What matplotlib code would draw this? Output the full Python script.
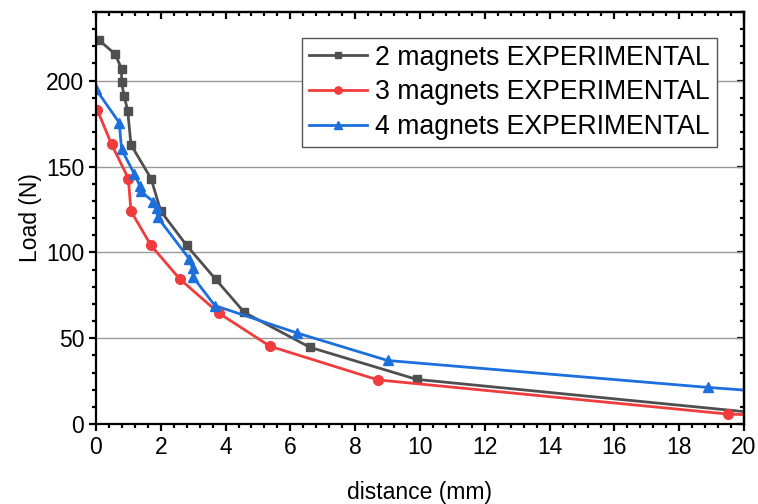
import numpy as np
import matplotlib
matplotlib.use("Agg")
import matplotlib.pyplot as plt
from matplotlib.ticker import MultipleLocator

plt.rcParams['font.family'] = ['Liberation Sans', 'DejaVu Sans']

# 2 magnets
d2 = [0.1, 0.59, 0.79, 0.79, 0.87, 0.98, 1.08, 1.70, 2.0, 2.8, 3.69, 4.58, 6.6, 9.9, 20.5]
load2 = [223.5, 215.5, 207, 199, 191, 182.5, 162.7, 143, 124, 104, 84.4, 65, 44.7, 26, 6.3]

# 3 magnets
d3 = [0.04, 0.48, 1.0, 1.08, 1.7, 2.59, 3.8, 5.37, 8.7, 19.5, 20.5]
load3 = [183, 163, 143, 124, 104, 84.4, 64.5, 45.3, 25.7, 5.8, 5.2]

# 4 magnets
d4 = [0.0, 0.72, 0.79, 1.18, 1.36, 1.38, 1.77, 1.87, 1.9, 2.88, 2.98, 3.0, 3.67, 6.21, 9.0, 18.9, 21.0]
load4 = [195, 175.5, 160, 145.8, 138.4, 135.5, 129.6, 125.8, 120.5, 96.2, 90.8, 85.5, 69, 53, 37, 21.3, 18.4]

labels = ['2 magnets EXPERIMENTAL', '3 magnets EXPERIMENTAL', '4 magnets EXPERIMENTAL']

fig = plt.figure(figsize=(7.58, 5.04), dpi=100)
ax = fig.add_axes([0.1266, 0.1587, 0.8549, 0.8175])

ax.plot(d2, load2, color='#4f4f4f', lw=2.0, marker='s', ms=6, label=labels[0])
ax.plot(d3, load3, color='#f03c3c', lw=2.0, marker='o', ms=7, label=labels[1])
ax.plot(d4, load4, color='#1c6fdc', lw=2.0, marker='^', ms=7.5, label=labels[2])

ax.set_xlim(0, 20)
ax.set_ylim(0, 240)
ax.xaxis.set_major_locator(MultipleLocator(2))
ax.xaxis.set_minor_locator(MultipleLocator(0.4))
ax.yaxis.set_major_locator(MultipleLocator(50))
ax.yaxis.set_minor_locator(MultipleLocator(10))

ax.grid(axis='y', which='major', color='#9a9a9a', lw=1.0)
ax.set_axisbelow(True)

for s in ax.spines.values():
    s.set_linewidth(1.6)

ax.tick_params(which='major', direction='out', length=5, width=1.6, labelsize=16.5)
ax.tick_params(which='minor', direction='out', length=3, width=1.6)

# inward ticks on top and right
sec_x = ax.secondary_xaxis('top')
sec_x.xaxis.set_major_locator(MultipleLocator(2))
sec_x.xaxis.set_minor_locator(MultipleLocator(0.4))
sec_x.tick_params(which='major', direction='in', length=5, width=1.6, labeltop=False)
sec_x.tick_params(which='minor', direction='in', length=3, width=1.6)
sec_x.spines['top'].set_linewidth(1.6)
sec_y = ax.secondary_yaxis('right')
sec_y.yaxis.set_major_locator(MultipleLocator(50))
sec_y.yaxis.set_minor_locator(MultipleLocator(10))
sec_y.tick_params(which='major', direction='in', length=5, width=1.6, labelright=False)
sec_y.tick_params(which='minor', direction='in', length=3, width=1.6)
sec_y.spines['right'].set_linewidth(1.6)

ax.set_xlabel('distance (mm)', fontsize=16.5, labelpad=16)
ax.set_ylabel('Load (N)', fontsize=16.5, labelpad=3)

leg = ax.legend(loc='upper right', bbox_to_anchor=(0.958, 0.937), borderaxespad=0,
                fontsize=19.2, fancybox=False, framealpha=1, edgecolor='#555555',
                handlelength=2.2, handletextpad=0.3, labelspacing=0.33,
                borderpad=0.25, markerscale=0.75)
leg.get_frame().set_linewidth(1.0)

fig.savefig('out.png', dpi=100)
